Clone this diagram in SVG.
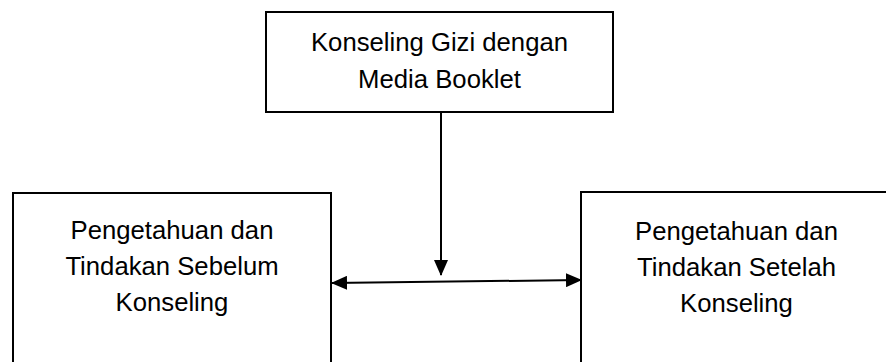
<svg xmlns="http://www.w3.org/2000/svg" width="886" height="362" viewBox="0 0 886 362">
<style>
.box{fill:#fff;stroke:#000;stroke-width:2}
.t{font-family:"Liberation Sans",Arial,sans-serif;font-size:25.7px;fill:#000;text-anchor:middle}
.c{stroke:#000;stroke-width:2;fill:none}
</style>
<defs>
<marker id="ah" markerUnits="userSpaceOnUse" markerWidth="16" markerHeight="14" viewBox="0 0 16 14" refX="15" refY="7" orient="auto-start-reverse">
<path d="M0,0 L16,7 L0,14 Z" fill="#000"/>
</marker>
</defs>
<rect width="886" height="362" fill="#fff"/>
<g id="top">
<rect class="box" x="266" y="12" width="347" height="100"/>
<text class="t" x="439.5" y="51">Konseling Gizi dengan</text>
<text class="t" x="439.5" y="88">Media Booklet</text>
</g>
<g id="left">
<rect class="box" x="13" y="193" width="318" height="180"/>
<text class="t" x="172" y="239">Pengetahuan dan</text>
<text class="t" x="172" y="275">Tindakan Sebelum</text>
<text class="t" x="172" y="311">Konseling</text>
</g>
<g id="right">
<rect class="box" x="581" y="192" width="311" height="181"/>
<text class="t" x="736.5" y="240">Pengetahuan dan</text>
<text class="t" x="736.5" y="276">Tindakan Setelah</text>
<text class="t" x="736.5" y="312">Konseling</text>
</g>
<g id="connectors">
<line class="c" x1="441" y1="112" x2="441" y2="275" marker-end="url(#ah)"/>
<line class="c" x1="332" y1="283" x2="581" y2="280" marker-start="url(#ah)" marker-end="url(#ah)"/>
</g>
</svg>
